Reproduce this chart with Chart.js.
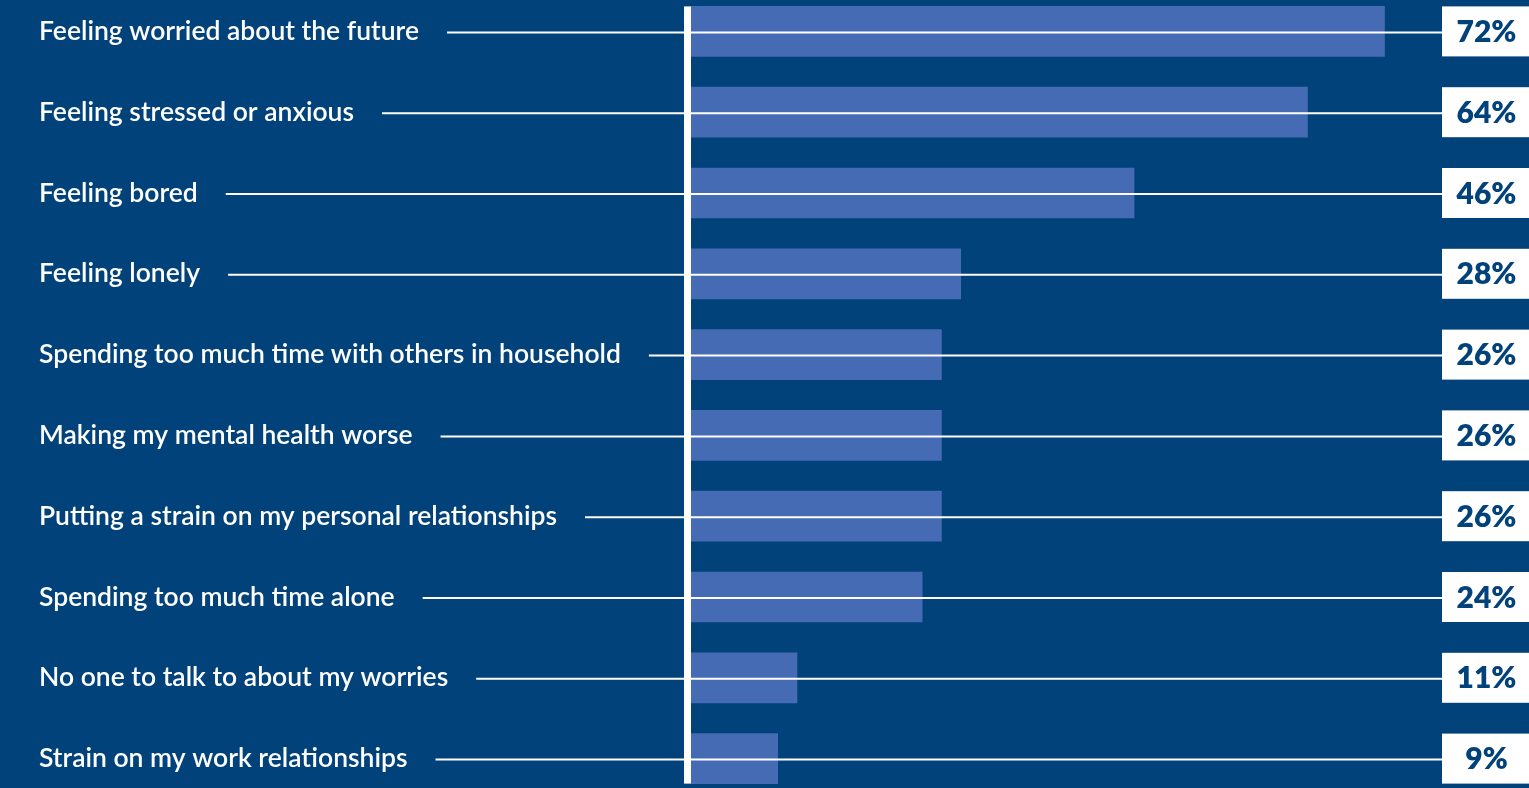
<!DOCTYPE html>
<html lang="en">
<head>
<meta charset="UTF-8">
<title>Worries</title>
<script src="https://cdn.jsdelivr.net/npm/chart.js"></script>
<style>
  html, body { margin: 0; padding: 0; background: #01427a; overflow: hidden; }
  #wrap { position: absolute; left: 0; top: -9px; width: 1529px; height: 808px; }
</style>
</head>
<body>
<div id="wrap">
  <canvas id="myChart"></canvas>
</div>
<script>
  const categories = [
    'Feeling worried about the future',
    'Feeling stressed or anxious',
    'Feeling bored',
    'Feeling lonely',
    'Spending too much time with others in household',
    'Making my mental health worse',
    'Putting a strain on my personal relationships',
    'Spending too much time alone',
    'No one to talk to about my worries',
    'Strain on my work relationships'
  ];
  const percentages = [72, 64, 46, 28, 26, 26, 26, 24, 11, 9];
  const percentLabels = ['72%', '64%', '46%', '28%', '26%', '26%', '26%', '24%', '11%', '9%'];

  const bg = '#01427a';
  const barColor = '#456bb4';
  const labelFont = '600 26.5px Lato';

  // connector lines, the white axis bar and the value boxes on the right
  const extras = {
    id: 'extras',
    afterDatasetsDraw(chart) {
      const c = chart.ctx;
      const area = chart.chartArea;
      const yScale = chart.scales.y;
      const meta = chart.getDatasetMeta(0);
      const boxLeft = 1442;
      c.save();

      const first = meta.data[0], last = meta.data[meta.data.length - 1];
      c.fillStyle = '#fff';
      c.fillRect(area.left - 7, first.y - first.height / 2, 7, (last.y + last.height / 2) - (first.y - first.height / 2));

      meta.data.forEach((bar, i) => {
        c.font = labelFont;
        const w = c.measureText(categories[i]).width;
        c.strokeStyle = '#fff';
        c.lineWidth = 2;
        c.beginPath();
        c.moveTo(yScale.left + w + 28, bar.y + 1);
        c.lineTo(boxLeft, bar.y + 1);
        c.stroke();

        c.fillStyle = '#fff';
        c.fillRect(boxLeft, bar.y - bar.height / 2, area.right - boxLeft, bar.height);
        c.fillStyle = bg;
        c.font = '800 30px Lato';
        c.textAlign = 'center';
        c.textBaseline = 'middle';
        c.fillText(percentLabels[i], (boxLeft + area.right) / 2 + 1, bar.y + 1);
      });
      c.restore();
    }
  };

  new Chart(document.getElementById('myChart'), {
    type: 'bar',
    data: {
      labels: categories,
      datasets: [{
        data: percentages,
        backgroundColor: barColor,
        borderWidth: 0,
        barThickness: 50
      }]
    },
    options: {
      indexAxis: 'y',
      responsive: true,
      maintainAspectRatio: false,
      animation: false,
      layout: { padding: { left: 39, right: 0, top: 0, bottom: 0 } },
      plugins: { legend: { display: false }, tooltip: { enabled: false } },
      scales: {
        x: {
          display: false,
          min: 0,
          max: 87
        },
        y: {
          grid: { display: false },
          border: { display: false },
          afterFit(scale) {
            scale.width = 652;
            scale.paddingTop = 0;
            scale.paddingBottom = 0;
          },
          ticks: {
            crossAlign: 'far',
            color: '#fff',
            font: { family: 'Lato', size: 26.5, weight: '600' }
          }
        }
      }
    },
    plugins: [extras]
  });
</script>
</body>
</html>
